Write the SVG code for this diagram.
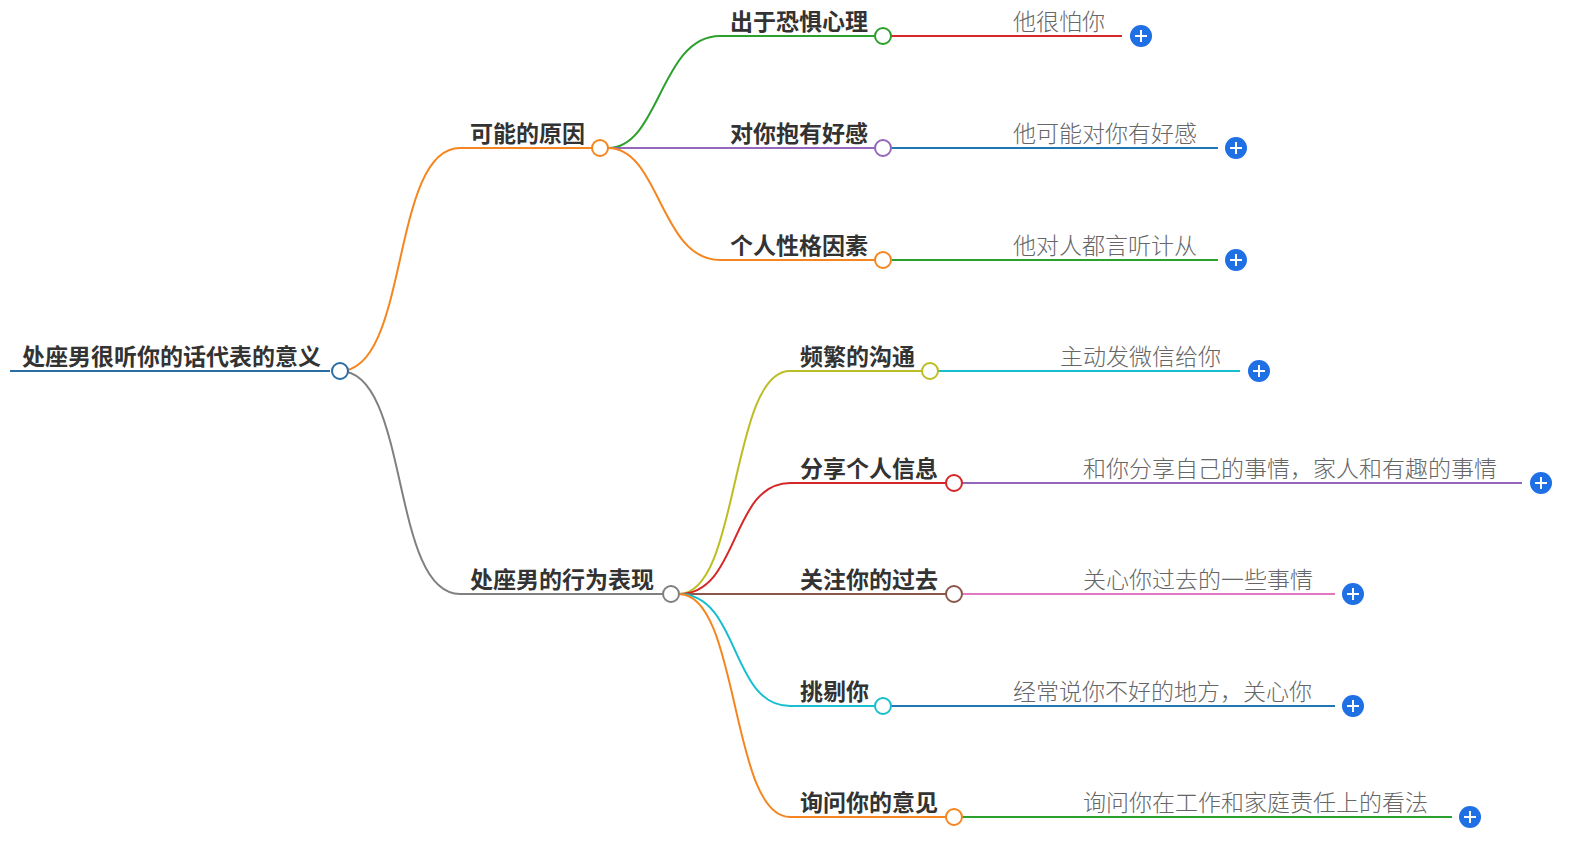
<svg xmlns="http://www.w3.org/2000/svg" width="1591" height="845" viewBox="0 0 1591 845">
<style>
.b{font-family:"Noto Sans CJK SC",sans-serif;font-weight:bold;font-size:23px;fill:#333}
.l{font-family:"Noto Sans CJK SC",sans-serif;font-weight:300;font-size:23px;fill:#666}
path{fill:none;stroke-width:2}
.c{fill:#fff;stroke-width:2}
.p circle{fill:#1f6fe5}
.p path{stroke:#fff;stroke-width:2}
</style>
<g id="connectors">
<path d="M10 371H330" stroke="#2b6ca3" stroke-width="5"/>
<path d="M340 371C410 371 390 148 460 148H592" stroke="#f5861f"/>
<path d="M340 371C410 371 390 594 460 594H663" stroke="#808080"/>
<path d="M608 148C660 148 660 36 720 36H875" stroke="#2ca02c"/>
<path d="M608 148H875" stroke="#9467bd"/>
<path d="M608 148C660 148 660 260 720 260H875" stroke="#f5861f"/>
<path d="M891 36H1122" stroke="#d62728"/>
<path d="M891 148H1218" stroke="#1f77b4"/>
<path d="M891 260H1218" stroke="#2ca02c"/>
<path d="M679 594C740 594 730 371 790 371H922" stroke="#bcbd22"/>
<path d="M679 594C740 594 730 483 790 483H946" stroke="#d62728"/>
<path d="M679 594H946" stroke="#8c564b"/>
<path d="M679 594C740 594 730 706 790 706H875" stroke="#17becf"/>
<path d="M679 594C740 594 730 817 790 817H946" stroke="#f5861f"/>
<path d="M938 371H1240" stroke="#17becf"/>
<path d="M962 483H1522" stroke="#9467bd"/>
<path d="M962 594H1335" stroke="#e377c2"/>
<path d="M891 706H1335" stroke="#1f77b4"/>
<path d="M962 817H1452" stroke="#2ca02c"/>
</g>
<g id="root"><text class="b" x="22" y="365">处座男很听你的话代表的意义</text><circle class="c" cx="340" cy="371" r="8" stroke="#2b6ca3"/></g>
<g id="n1"><text class="b" x="470" y="142">可能的原因</text><circle class="c" cx="600" cy="148" r="8" stroke="#f5861f"/></g>
<g id="n2"><text class="b" x="470" y="588">处座男的行为表现</text><circle class="c" cx="671" cy="594" r="8" stroke="#808080"/></g>
<g id="n11"><text class="b" x="730" y="30">出于恐惧心理</text><circle class="c" cx="883" cy="36" r="8" stroke="#2ca02c"/></g>
<g id="n12"><text class="b" x="730" y="142">对你抱有好感</text><circle class="c" cx="883" cy="148" r="8" stroke="#9467bd"/></g>
<g id="n13"><text class="b" x="730" y="254">个人性格因素</text><circle class="c" cx="883" cy="260" r="8" stroke="#f5861f"/></g>
<g id="n21"><text class="b" x="800" y="365">频繁的沟通</text><circle class="c" cx="930" cy="371" r="8" stroke="#bcbd22"/></g>
<g id="n22"><text class="b" x="800" y="477">分享个人信息</text><circle class="c" cx="954" cy="483" r="8" stroke="#d62728"/></g>
<g id="n23"><text class="b" x="800" y="588">关注你的过去</text><circle class="c" cx="954" cy="594" r="8" stroke="#8c564b"/></g>
<g id="n24"><text class="b" x="800" y="700">挑剔你</text><circle class="c" cx="883" cy="706" r="8" stroke="#17becf"/></g>
<g id="n25"><text class="b" x="800" y="811">询问你的意见</text><circle class="c" cx="954" cy="817" r="8" stroke="#f5861f"/></g>
<g id="l11" class="p"><text class="l" x="1013" y="30">他很怕你</text><circle cx="1141" cy="36" r="11"/><path d="M1135 36h12M1141 30v12"/></g>
<g id="l12" class="p"><text class="l" x="1013" y="142">他可能对你有好感</text><circle cx="1236" cy="148" r="11"/><path d="M1230 148h12M1236 142v12"/></g>
<g id="l13" class="p"><text class="l" x="1013" y="254">他对人都言听计从</text><circle cx="1236" cy="260" r="11"/><path d="M1230 260h12M1236 254v12"/></g>
<g id="l21" class="p"><text class="l" x="1060" y="365">主动发微信给你</text><circle cx="1259" cy="371" r="11"/><path d="M1253 371h12M1259 365v12"/></g>
<g id="l22" class="p"><text class="l" x="1083" y="477">和你分享自己的事情，家人和有趣的事情</text><circle cx="1541" cy="483" r="11"/><path d="M1535 483h12M1541 477v12"/></g>
<g id="l23" class="p"><text class="l" x="1083" y="588">关心你过去的一些事情</text><circle cx="1353" cy="594" r="11"/><path d="M1347 594h12M1353 588v12"/></g>
<g id="l24" class="p"><text class="l" x="1013" y="700">经常说你不好的地方，关心你</text><circle cx="1353" cy="706" r="11"/><path d="M1347 706h12M1353 700v12"/></g>
<g id="l25" class="p"><text class="l" x="1083" y="811">询问你在工作和家庭责任上的看法</text><circle cx="1470" cy="817" r="11"/><path d="M1464 817h12M1470 811v12"/></g>
</svg>
